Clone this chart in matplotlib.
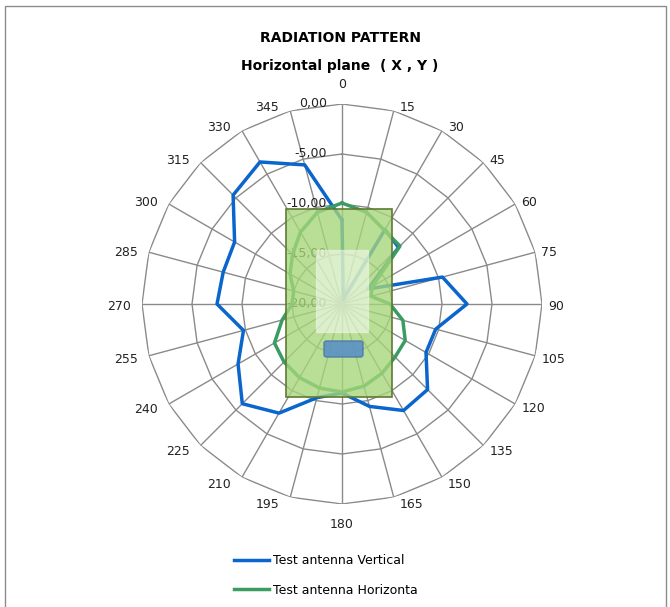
import numpy as np
import matplotlib
matplotlib.use("Agg")
import matplotlib.pyplot as plt
from matplotlib.patches import Rectangle, FancyBboxPatch
from matplotlib.transforms import offset_copy

# Angles in degrees (clockwise from 0 at the top)
angles = [0, 15, 30, 45, 60, 75, 90, 105, 120, 135, 150, 165,
          180, 195, 210, 225, 240, 255, 270, 285, 300, 315, 330, 345]

# Measured levels in dB
vertical = [-11.6, -19.5, -11.4, -12.0, -17.0, -9.6, -7.5, -10.3, -10.3, -7.9, -7.7, -9.4,
            -11.1, -10.3, -7.4, -5.9, -8.0, -9.8, -7.5, -7.7, -7.6, -4.6, -3.6, -5.6]
horizontal = [-9.9, -10.5, -11.5, -11.8, -16.5, -17.0, -15.2, -13.7, -12.7, -12.5, -12.0, -11.5,
              -11.2, -11.3, -11.5, -11.8, -12.2, -13.8, -15.0, -15.0, -14.0, -13.0, -11.7, -10.5]

ring_levels = [-20, -15, -10, -5, 0]
ring_labels = ["-20,00", "-15,00", "-10,00", "-5,00", "0,00"]
series_names = ["Test antenna Vertical", "Test antenna Horizonta"]

BLUE = "#0a66cc"
GREEN = "#3a9c62"
GRID = "#8a8a8a"

fig = plt.figure(figsize=(6.7, 6.07), dpi=100)
W, H = 670, 607
cx, cy, R = 342, 304, 200
ax = fig.add_axes([(cx - R) / W, (H - cy - R) / H, 2 * R / W, 2 * R / H], projection="polar")
ax.set_theta_zero_location("N")
ax.set_theta_direction(-1)
ax.set_ylim(-20, 0)
ax.grid(False)
ax.set_xticks([])
ax.set_yticks([])
ax.spines["polar"].set_visible(False)

theta = np.deg2rad(angles)
theta_closed = np.append(theta, theta[0])

# polygon rings and spokes like an Excel radar chart
for lvl in ring_levels[1:]:
    ax.plot(theta_closed, [lvl] * len(theta_closed), color=GRID, lw=1, zorder=1)
for t in theta:
    ax.plot([t, t], [ring_levels[0], ring_levels[-1]], color=GRID, lw=1, zorder=1)

# ring value labels next to the 0 spoke
lab_tr = offset_copy(ax.transData, fig=fig, x=-15, y=0, units="dots")
for lvl, txt in zip(ring_levels, ring_labels):
    ax.text(0, lvl, txt, transform=lab_tr, ha="right", va="center",
            fontsize=9, color="#222222", zorder=2)

# angle labels sitting beside the outer vertices
for a, t in zip(angles, theta):
    dy = -(2 - 6 * np.cos(t))
    if a == 0:
        ha, dx, dy = "center", 0, 20
    elif a == 180:
        ha, dx, dy = "center", 0, -21
    elif a < 180:
        ha, dx = "left", 6
    else:
        ha, dx = "right", -11
    tr = offset_copy(ax.transData, fig=fig, x=dx, y=dy, units="dots")
    ax.text(t, 0, str(a), transform=tr, ha=ha, va="center", fontsize=9,
            color="#222222", clip_on=False)

# data series
v_closed = np.append(vertical, vertical[0])
h_closed = np.append(horizontal, horizontal[0])
ax.plot(theta_closed, v_closed, color=BLUE, lw=2.5, label=series_names[0], zorder=3)
ax.plot(theta_closed, h_closed, color=GREEN, lw=2.5, label=series_names[1], zorder=3)

# antenna sketch drawn over the centre
def px_rect(x0, y0, x1, y1):
    return ((x0 - (cx - R)) / (2 * R), ((cy + R) - y1) / (2 * R),
            (x1 - x0) / (2 * R), (y1 - y0) / (2 * R))

gx, gy, gw, gh = px_rect(286, 209, 392, 397)
ax.add_patch(Rectangle((gx, gy), gw, gh, transform=ax.transAxes,
                       facecolor="#a6d67a", alpha=0.78, edgecolor="none", zorder=4))
ax.add_patch(Rectangle((gx, gy), gw, gh, transform=ax.transAxes,
                       facecolor="none", edgecolor="#5f7a35", lw=1.2, zorder=4))
wx, wy, ww, wh = px_rect(316, 250, 368, 332)
ax.add_patch(Rectangle((wx, wy), ww, wh, transform=ax.transAxes,
                       facecolor="white", alpha=0.5, edgecolor="#f4f8ee", lw=1, zorder=5))
bx, by, bw, bh = px_rect(324, 341, 363, 357)
ax.add_patch(FancyBboxPatch((bx, by), bw, bh, boxstyle="round,pad=0,rounding_size=0.006",
                            transform=ax.transAxes, facecolor="#5b91c4", alpha=0.9,
                            edgecolor="#4a78a8", lw=1, zorder=6))

# titles
fig.text(340 / W, 1 - 38 / H, "RADIATION PATTERN", ha="center", va="center",
         fontsize=10, fontweight="bold")
fig.text(340 / W, 1 - 66 / H, "Horizontal plane  ( X , Y )", ha="center", va="center",
         fontsize=10, fontweight="bold")

fig.legend(loc="upper left", bbox_to_anchor=(223 / W, 1 - 543 / H), frameon=False,
           fontsize=9, handlelength=2.8, handletextpad=0.3, labelspacing=1.3)

# chart border
fig.add_artist(Rectangle((5 / W, -0.05), 661 / W, (H - 6) / H + 0.05,
                         transform=fig.transFigure, facecolor="none",
                         edgecolor="#8c8c8c", lw=1))

fig.savefig("out.png", dpi=100)
